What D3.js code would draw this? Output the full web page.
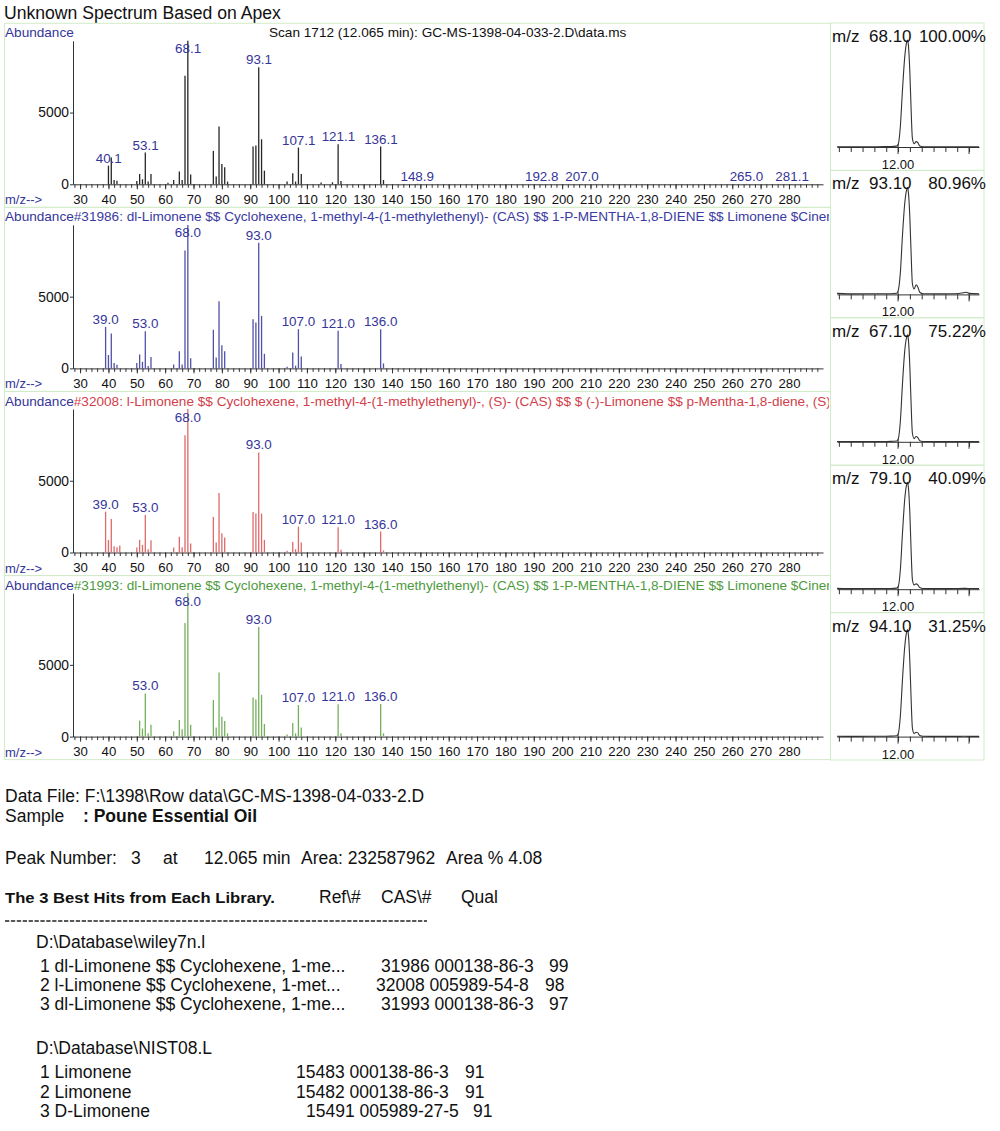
<!DOCTYPE html>
<html><head><meta charset="utf-8">
<script src="https://cdn.jsdelivr.net/npm/d3@7"></script>
<style>
body{margin:0;background:#fff}
svg{display:block}
text{font-family:"Liberation Sans",Arial,sans-serif}
</style>
</head><body>
<svg id="c" width="1000" height="1131"></svg>
<script>
// ---------------- DATA ----------------
const mainTitle = "Unknown Spectrum Based on Apex";
const scanLabel = "Scan 1712 (12.065 min): GC-MS-1398-04-033-2.D\\data.ms";
const libTitles = [
  null,
  "#31986: dl-Limonene $$ Cyclohexene, 1-methyl-4-(1-methylethenyl)- (CAS) $$ 1-P-MENTHA-1,8-DIENE $$ Limonene $Cinene $$",
  "#32008: l-Limonene $$ Cyclohexene, 1-methyl-4-(1-methylethenyl)-, (S)- (CAS) $$ $ (-)-Limonene $$ p-Mentha-1,8-diene, (S)- $$",
  "#31993: dl-Limonene $$ Cyclohexene, 1-methyl-4-(1-methylethenyl)- (CAS) $$ 1-P-MENTHA-1,8-DIENE $$ Limonene $Cinene $$"
];
const mzTickLabels = [30,40,50,60,70,80,90,100,110,120,130,140,150,160,170,180,190,200,210,220,230,240,250,260,270,280];
const abundanceTicks = [0, 5000];

// Scan spectrum (apex)
const p1Mz = [40,41,42,43,50,51,52,53,54,55,61,63,65,66,67,68,69,77,78,79,80,81,82,91,92,93,94,95,103,105,106,107,108,115,119,121,122,136,137,149,193,207,265,281];
const p1Ab = [1300,1860,300,250,230,720,350,2210,190,720,100,300,900,300,7560,10000,680,2330,540,4030,1420,1190,190,2630,2700,8150,3140,950,190,770,190,2560,720,120,140,2790,230,2630,300,30,25,25,25,25];
const p1Labels = [40.1,53.1,68.1,93.1,107.1,121.1,136.1,148.9,192.8,207.0,265.0,281.1];

// Library hit #31986
const p2Mz = [39,40,41,42,43,50,51,52,53,54,55,63,65,66,67,68,69,77,78,79,80,81,91,92,93,94,95,103,105,106,107,108,121,122,136,137];
const p2Ab = [2890,930,2430,370,260,370,970,460,2590,160,790,280,1200,280,8220,10000,700,2690,760,4680,1620,1200,3430,3200,8750,3660,1020,120,1110,190,2730,830,2620,300,2730,350];
const p2Labels = [39.0,53.0,68.0,93.0,107.0,121.0,136.0];

// Library hit #32008
const p3Mz = [39,40,41,42,43,44,50,51,52,53,54,55,63,65,66,67,68,69,77,78,79,80,81,91,92,93,94,95,103,105,106,107,108,121,122,136,137];
const p3Ab = [2850,880,2340,440,370,490,350,880,530,2620,230,860,350,1090,370,8170,10000,630,2480,690,4140,1340,1040,2820,2710,6970,2710,880,120,740,230,1810,690,1760,190,1460,140];
const p3Labels = [39.0,53.0,68.0,93.0,107.0,121.0,136.0];

// Library hit #31993
const p4Mz = [51,52,53,54,55,63,65,66,67,68,69,77,78,79,80,81,82,91,92,93,94,95,103,105,106,107,108,121,122,136,137];
const p4Ab = [1110,560,3010,230,830,370,1160,510,7920,10000,830,2550,630,4470,1390,1090,230,2730,2590,7640,2920,880,140,950,230,2200,630,2250,230,2270,230];
const p4Labels = [53.0,68.0,93.0,107.0,121.0,136.0];

// Extracted ion chromatograms
const ionMz = ["68.10","93.10","67.10","79.10","94.10"];
const ionPct = ["100.00%","80.96%","75.22%","40.09%","31.25%"];
const chromTime = [11.57,11.70,11.85,11.95,11.99,12.000,12.016,12.031,12.047,12.059,12.066,12.073,12.083,12.092,12.101,12.113,12.127,12.139,12.153,12.176,12.30,12.40,12.46,12.48,12.50,12.57];
const chrom1 = [0.3,0.2,0.3,0.4,0.8,2,19,53,84,97,100,95,70,35,8,3,5,4,1,0.3,0.2,0.2,0.3,0.3,0.2,0.2];
const chrom2 = [1.0,0.5,0.6,0.6,1.0,3,20,55,85,97,100,95,72,38,10,5,9,7,2,0.6,0.5,0.6,1.5,2,1,0.5];
const chrom3 = [0.3,0.3,0.3,0.4,0.8,2,19,54,85,97,100,95,70,35,8,3,5,4,1,0.3,0.2,0.2,0.3,0.3,0.2,0.2];
const chrom4 = [0.8,0.5,0.7,0.6,1.0,2,18,52,84,97,100,95,71,36,9,4,5,4,1.5,0.6,0.5,0.6,0.8,0.8,0.6,0.6];
const chrom5 = [0.3,0.2,0.3,0.4,0.8,2,19,53,84,97,100,95,70,35,8,3,4,3.5,1,0.3,0.2,0.2,0.3,0.3,0.2,0.2];
const chromTickLabel = "12.00";

// Report text
const dataFileLine = "Data File: F:\\1398\\Row data\\GC-MS-1398-04-033-2.D";
const sampleLabel = "Sample";
const sampleName = ": Poune Essential Oil";
const peakLine = ["Peak Number:", "3", "at", "12.065 min", "Area: 232587962", "Area % 4.08"];
const hitsHeader = ["The 3 Best Hits from Each Library.", "Ref\\#", "CAS\\#", "Qual"];
const lib1Name = "D:\\Database\\wiley7n.l";
const lib1Hits = ["1 dl-Limonene $$ Cyclohexene, 1-me...", "2 l-Limonene $$ Cyclohexene, 1-met...", "3 dl-Limonene $$ Cyclohexene, 1-me..."];
const lib1Refs = ["31986 000138-86-3", "32008 005989-54-8", "31993 000138-86-3"];
const lib1Qual = ["99", "98", "97"];
const lib2Name = "D:\\Database\\NIST08.L";
const lib2Hits = ["1 Limonene", "2 Limonene", "3 D-Limonene"];
const lib2Refs = ["15483 000138-86-3", "15482 000138-86-3", "15491 005989-27-5"];
const lib2Qual = ["91", "91", "91"];

// ---------------- DRAW ----------------
const svg = d3.select("#c");
svg.append("rect").attr("width",1000).attr("height",1131).attr("fill","#fff");

const BLUE = "#35359a";
const BORDER = "#d2ebc9";

svg.append("text").attr("x",4).attr("y",19).attr("font-size",17.6).attr("fill","#111").text(mainTitle);

const x = d3.scaleLinear().domain([27.5, 292]).range([73, 823]);
const baselines = [184.3, 368.4, 552.5, 736.6];
const panels = [
  {mz:p1Mz, ab:p1Ab, labels:p1Labels, bar:"#262626", title:null, tcol:"#111"},
  {mz:p2Mz, ab:p2Ab, labels:p2Labels, bar:"#5050a8", title:libTitles[1], tcol:"#3a3aa2"},
  {mz:p3Mz, ab:p3Ab, labels:p3Labels, bar:"#de6a6a", title:libTitles[2], tcol:"#d2404a"},
  {mz:p4Mz, ab:p4Ab, labels:p4Labels, bar:"#74b05c", title:libTitles[3], tcol:"#4e9a3e"}
];

const defs = svg.append("defs");
defs.append("clipPath").attr("id","leftclip").append("rect").attr("x",0).attr("y",0).attr("width",829).attr("height",1131);

panels.forEach((p, i) => {
  const b = baselines[i];
  const y = d3.scaleLinear().domain([0, 10000]).range([b, b - 143.5]);
  svg.append("rect").attr("x",4.5).attr("y",b-161).attr("width",826).attr("height",184)
    .attr("fill","none").attr("stroke",BORDER).attr("stroke-width",1);

  // header
  const ht = svg.append("text").attr("x",5).attr("y",b-147).attr("font-size",13.6).attr("clip-path","url(#leftclip)");
  ht.append("tspan").attr("fill",BLUE).text("Abundance");
  if (p.title) ht.append("tspan").attr("fill",p.tcol).text(p.title);
  if (i === 0) svg.append("text").attr("x",269).attr("y",b-147).attr("font-size",13.6).attr("fill","#111").text(scanLabel);

  // axes
  const gx = svg.append("g").attr("transform",`translate(0,${b})`);
  gx.call(d3.axisBottom(x).tickValues(d3.range(28, 292, 2)).tickSize(3.5).tickSizeOuter(0).tickFormat(""));
  const gx2 = svg.append("g").attr("transform",`translate(0,${b})`);
  gx2.call(d3.axisBottom(x).tickValues(mzTickLabels).tickSize(5).tickPadding(5.5).tickSizeOuter(0));
  gx2.select(".domain").remove();
  [gx, gx2].forEach(g => {
    g.selectAll("path,line").attr("stroke","#333");
    g.selectAll("text").attr("font-size",13.2).attr("fill","#111").attr("font-family","Liberation Sans, Arial, sans-serif");
  });
  const gy = svg.append("g").attr("transform","translate(73,0)");
  gy.call(d3.axisLeft(y).tickValues(abundanceTicks).tickFormat(d3.format("d")).tickSize(3).tickPadding(1).tickSizeOuter(0));
  gy.selectAll("path,line").attr("stroke","#333");
  gy.selectAll("text").attr("font-size",13.8).attr("fill","#111").attr("font-family","Liberation Sans, Arial, sans-serif");

  svg.append("text").attr("x",5).attr("y",b+20).attr("font-size",13).attr("fill",BLUE).text("m/z-->");

  // bars
  const data = p.mz.map((m, k) => ({m, a: p.ab[k]}));
  svg.append("g").selectAll("line").data(data).join("line")
    .attr("x1", d => x(d.m)).attr("x2", d => x(d.m))
    .attr("y1", y(0)).attr("y2", d => y(d.a))
    .attr("stroke", p.bar).attr("stroke-width", 1.3);

  // peak labels
  svg.append("g").selectAll("text").data(p.labels).join("text")
    .attr("x", L => x(L))
    .attr("y", L => {
      const hit = data.find(d => d.m === Math.round(L));
      const top = hit ? y(hit.a) : y(0);
      return Math.max(top - 3, b - 131);
    })
    .attr("text-anchor","middle").attr("font-size",13.4).attr("fill",BLUE)
    .text(L => L.toFixed(1));
});

// chromatogram panels
const chroms = [chrom1, chrom2, chrom3, chrom4, chrom5];
const tx = d3.scaleLinear().domain([11.57, 12.57]).range([837, 979]);
const minorTicks = d3.range(0, 13).map(k => 11.5833 + k * (0.5 / 6)).filter(t => t >= 11.57 && t <= 12.57);
chroms.forEach((c, i) => {
  const T = 23 + i * 147.4;
  const base = T + 124;
  const ty = d3.scaleLinear().domain([0, 100]).range([base, T + 17]);
  svg.append("rect").attr("x",830.5).attr("y",T).attr("width",153.5).attr("height",147.4)
    .attr("fill","none").attr("stroke",BORDER).attr("stroke-width",1);
  const g = svg.append("g").attr("transform",`translate(0,${base})`);
  g.call(d3.axisBottom(tx).tickValues(minorTicks).tickSize(5).tickSizeOuter(0).tickFormat(""));
  g.selectAll("path,line").attr("stroke","#333");
  svg.append("line").attr("x1",tx(12)).attr("x2",tx(12)).attr("y1",base-3).attr("y2",base+7).attr("stroke","#333");
  svg.append("line").attr("x1",tx(12.5)).attr("x2",tx(12.5)).attr("y1",base).attr("y2",base+7).attr("stroke","#333");
  svg.append("text").attr("x",tx(12)).attr("y",base+22).attr("text-anchor","middle").attr("font-size",13).attr("fill","#111").text(chromTickLabel);

  const pts = chromTime.map((t, k) => [t, c[k]]);
  svg.append("path").datum(pts)
    .attr("d", d3.line().x(d => tx(d[0])).y(d => ty(d[1])).curve(d3.curveMonotoneX))
    .attr("fill","none").attr("stroke","#333").attr("stroke-width",1.1);

  svg.append("text").attr("x",832).attr("y",T+19).attr("font-size",17).attr("fill","#111").text("m/z");
  svg.append("text").attr("x",869).attr("y",T+19).attr("font-size",17).attr("fill","#111").text(ionMz[i]);
  svg.append("text").attr("x",986).attr("y",T+19).attr("font-size",17).attr("text-anchor","end").attr("fill","#111").text(ionPct[i]);
});

// report text
const R = svg.append("g").attr("fill","#111").attr("font-size",17.5);
function t(xp, yp, s, opts) {
  const e = R.append("text").attr("x",xp).attr("y",yp).text(s);
  if (opts) Object.entries(opts).forEach(([k,v]) => e.attr(k,v));
  return e;
}
t(5, 802, dataFileLine);
t(5, 822, sampleLabel);
t(83, 822, sampleName, {"font-weight":"bold"});
t(5, 864, peakLine[0]); t(131, 864, peakLine[1]); t(163, 864, peakLine[2]);
t(204, 864, peakLine[3]); t(301, 864, peakLine[4]); t(446, 864, peakLine[5]);
t(5, 903, hitsHeader[0], {"font-size":15, "font-weight":"bold", "textLength":270, "lengthAdjust":"spacingAndGlyphs"});
t(319, 903, hitsHeader[1]); t(381, 903, hitsHeader[2]); t(461, 903, hitsHeader[3]);
svg.append("line").attr("x1",5).attr("x2",427).attr("y1",921).attr("y2",921)
  .attr("stroke","#222").attr("stroke-width",1.3).attr("stroke-dasharray","4.3,1.6");
t(36, 948, lib1Name);
const r1y = [972, 991, 1010];
const refX1 = [381, 376, 381], qX1 = [549, 545, 549];
lib1Hits.forEach((s, k) => {
  t(40, r1y[k], s);
  t(refX1[k], r1y[k], lib1Refs[k]);
  t(qX1[k], r1y[k], lib1Qual[k]);
});
t(36, 1054, lib2Name);
const r2y = [1078, 1098, 1117];
const refX2 = [296, 296, 306], qX2 = [465, 465, 473];
lib2Hits.forEach((s, k) => {
  t(40, r2y[k], s);
  t(refX2[k], r2y[k], lib2Refs[k]);
  t(qX2[k], r2y[k], lib2Qual[k]);
});
</script>
</body></html>
